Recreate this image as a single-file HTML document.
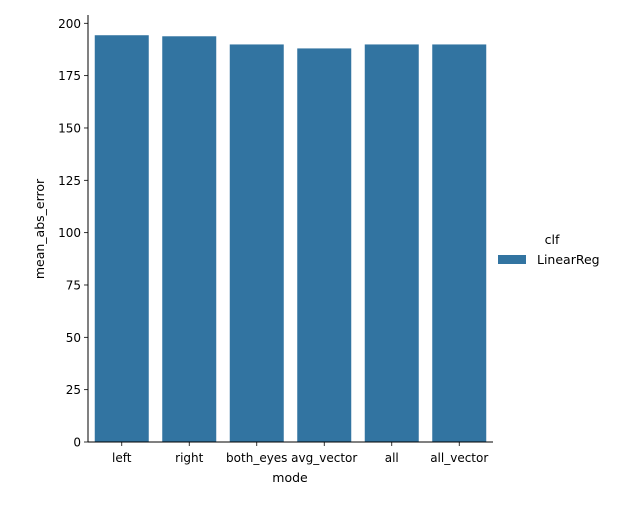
<!DOCTYPE html>
<html><head><meta charset="utf-8"><style>body{margin:0;background:#fff}svg{font-family:"DejaVu Sans","Liberation Sans",sans-serif}</style></head>
<body>
<svg id="c" width="619" height="500"></svg>
<script>
const categories=["left","right","both_eyes","avg_vector","all","all_vector"];
const values=[194.3,193.8,189.9,188.0,189.9,189.9];
const yTicks=[0,25,50,75,100,125,150,175,200];
const NS="http://www.w3.org/2000/svg";
const svg=document.getElementById('c');
const x0=88,x1=493,yBase=442,yTop=23.3;
const y=v=>yBase-(v/200)*(yBase-yTop);
const step=(x1-x0)/categories.length;
const xc=i=>x0+step*(i+0.5);
function el(t,a,txt){const e=document.createElementNS(NS,t);for(const k in a)e.setAttribute(k,a[k]);if(txt!=null)e.textContent=txt;svg.appendChild(e);return e;}
categories.forEach((c,i)=>{
 const b=el('rect',{x:xc(i)-step*0.4,y:y(values[i]),width:step*0.8,height:yBase-y(values[i]),fill:'#3274a1'});
 
 
 el('line',{x1:xc(i),x2:xc(i),y1:yBase,y2:yBase+4,stroke:'#000','stroke-width':0.8});
 const t=el('text',{x:xc(i),y:yBase+20,'text-anchor':'middle','font-size':12},c);
 
 
});
yTicks.forEach(v=>{
 el('line',{x1:x0-4,x2:x0,y1:y(v),y2:y(v),stroke:'#000','stroke-width':0.8});
 const t=el('text',{x:x0-7,y:y(v)+4.5,'text-anchor':'end','font-size':12},v);
 
 
});
el('line',{x1:x0,x2:x0,y1:15,y2:yBase,stroke:'#000','stroke-width':1});
el('line',{x1:x0,x2:x1,y1:yBase,y2:yBase,stroke:'#000','stroke-width':1});
const xt=el('text',{x:290,y:482,'text-anchor':'middle','font-size':12.5},'mode');


const yt=el('text',{x:0,y:0,'text-anchor':'middle','font-size':12.5,transform:'translate(44,229) rotate(-90)'},'mean_abs_error');


const lt=el('text',{x:552,y:244,'text-anchor':'middle','font-size':12.5},'clf');


const lr=el('rect',{x:498,y:255,width:28,height:9,fill:'#3274a1'});


const ll=el('text',{x:537,y:264,'font-size':12.5},'LinearReg');


</script>
</body></html>
